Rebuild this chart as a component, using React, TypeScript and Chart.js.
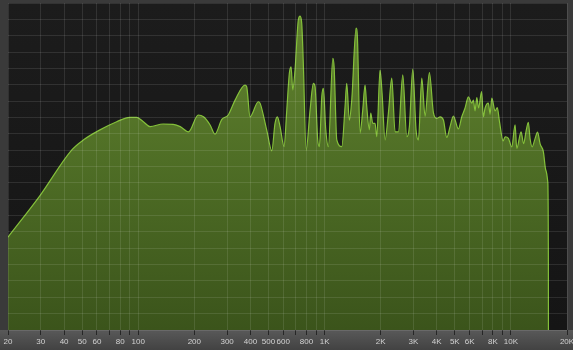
import React, { useEffect, useRef } from "react";
import { Chart, registerables } from "chart.js";

Chart.register(...registerables);

// Spectrum: frequency (Hz) and level (dB)
const frequencies = [
  20, 29.7, 43.9, 50.7, 62.3, 76.6, 90.3, 98.2, 106.5, 115.7, 136, 154, 168, 186,
  210, 224, 243, 258, 281, 304, 331, 374, 382, 398, 441, 451, 489, 521, 542, 558,
  577, 606, 627, 647, 661, 675, 694, 723, 739, 754, 769, 796, 836, 871, 889, 919,
  938, 966, 985, 1015, 1048, 1107, 1125, 1163, 1237, 1288, 1315, 1358, 1399, 1476,
  1500, 1550, 1603, 1649, 1684, 1739, 1769, 1814, 1866, 1906, 1985, 2035, 2111,
  2200, 2294, 2390, 2490, 2628, 2762, 2852, 2974, 3097, 3188, 3324, 3462, 3652,
  3837, 4001, 4168, 4342, 4528, 4716, 4912, 5225, 5450, 5677, 5912, 6166, 6290,
  6420, 6561, 6709, 6961, 7117, 7268, 7571, 7730, 7898, 8227, 8450, 8676, 9080,
  9308, 9694, 10110, 10530, 10750, 11340, 11700, 12070, 12400, 12680, 13000, 13490,
  13900, 14350, 14940, 15390, 15770, 15890, 15900,
];

const levels = [
  -71.6, -58.9, -45.0, -41.9, -38.8, -36.3, -34.95, -34.95, -36.3, -37.8, -37.0, -37.1, -37.8, -39.4,
  -34.25, -34.8, -37.3, -40.1, -35.6, -34.25, -29.7, -25.1, -25.6, -34.8, -30.2, -30.7, -38.8, -45.2, -36.8, -34.8,
  -37.8, -43.9, -32.7, -21.5, -19.5, -26.6, -20.5, -5.2, -4.0, -6.2, -18.4, -45.0, -32.7, -24.6, -25.6, -41.9,
  -43.9, -28.7, -26.1, -38.8, -43.9, -16.9, -19.5, -41.9, -43.9, -31.7, -24.6, -35.8, -29.7, -7.7,
  -10.3, -39.8, -32.7, -25.1, -31.7, -38.8, -33.7, -36.8, -36.8, -40.9, -20.5, -27.6, -41.9,
  -33.7, -23.0, -39.4, -39.4, -22.0, -40.9, -37.8, -20.2, -38.8, -41.9, -23.0, -34.6, -21.3,
  -33.5, -35.3, -34.8, -35.8, -41.1, -37.8, -34.6, -38.5, -34.8, -32.1, -28.7, -30.6, -29.7,
  -33.0, -28.9, -32.1, -27.1, -34.8, -32.1, -30.6, -34.0, -29.1, -33.0, -32.0, -36.1, -42.2,
  -40.9, -41.4, -44.0, -37.3, -44.5, -39.4, -43.0, -39.1, -36.5, -41.6, -44.0, -41.4,
  -39.5, -43.1, -45.5, -51.1, -54.7, -79.2, -100,
];

const tickFrequencies = [
  20, 30, 40, 50, 60, 70, 80, 90, 100, 200, 300, 400, 500, 600, 700, 800, 900,
  1000, 2000, 3000, 4000, 5000, 6000, 7000, 8000, 9000, 10000, 20000,
];
const labelledFrequencies = [
  20, 30, 40, 50, 60, 80, 100, 200, 300, 400, 500, 600, 800, 1000, 2000, 3000,
  4000, 5000, 6000, 8000, 10000, 20000,
];
const tickLabels = [
  "20", "30", "40", "50", "60", "80", "100", "200", "300", "400", "500", "600", "800",
  "1K", "2K", "3K", "4K", "5K", "6K", "8K", "10K", "20K",
];

const backgroundPlugin = {
  id: "analyzerBackground",
  beforeDraw(chart: any) {
    const { ctx, chartArea: a, width, height } = chart;
    ctx.save();
    ctx.fillStyle = "#3a3a3a";
    ctx.fillRect(0, 0, width, height);
    const g = ctx.createLinearGradient(0, a.bottom, 0, height);
    g.addColorStop(0, "#595959");
    g.addColorStop(1, "#424242");
    ctx.fillStyle = g;
    ctx.fillRect(0, a.bottom, width, height - a.bottom);
    const p = ctx.createLinearGradient(0, a.top, 0, a.bottom);
    p.addColorStop(0, "#1c1c1c");
    p.addColorStop(1, "#151515");
    ctx.fillStyle = p;
    ctx.fillRect(a.left, a.top, a.right - a.left, a.bottom - a.top);
    ctx.restore();
  },
};

export default function App() {
  const ref = useRef<HTMLCanvasElement>(null);
  useEffect(() => {
    if (!ref.current) return;
    const chart = new Chart(ref.current, {
      type: "line",
      data: {
        datasets: [
          {
            data: frequencies.map((f, i) => ({ x: f, y: levels[i] })),
            borderColor: "#84c03a",
            borderWidth: 1.2,
            pointRadius: 0,
            cubicInterpolationMode: "monotone",
            fill: "start",
            backgroundColor: (c: any) => {
              const a = c.chart.chartArea;
              if (!a) return "#4e6e24";
              const g = c.chart.ctx.createLinearGradient(0, a.top, 0, a.bottom);
              g.addColorStop(0, "#648530");
              g.addColorStop(0.5, "#4e6d25");
              g.addColorStop(1, "#3b541b");
              return g;
            },
          },
        ],
      },
      options: {
        responsive: false,
        animation: false,
        devicePixelRatio: 1,
        layout: { padding: { left: 8, right: 6, top: 3, bottom: 0 } },
        plugins: { legend: { display: false }, tooltip: { enabled: false } },
        scales: {
          x: {
            type: "logarithmic",
            min: 20,
            max: 20000,
            afterBuildTicks: (s: any) => {
              s.ticks = tickFrequencies.map((v) => ({ value: v }));
            },
            afterFit: (s: any) => {
              s.height = 20;
              s.paddingLeft = 0;
              s.paddingRight = 0;
            },
            border: { display: false },
            grid: {
              z: 1,
              color: "rgba(255,255,255,0.10)",
              tickColor: "#262626",
              tickLength: 5,
              lineWidth: 1,
            },
            ticks: {
              autoSkip: false,
              maxRotation: 0,
              minRotation: 0,
              padding: 2,
              color: "#d2d2d2",
              font: {
                family: "'Liberation Sans Narrow', 'Liberation Sans', sans-serif",
                size: 8,
              },
              callback: (value: any) => {
                const i = labelledFrequencies.indexOf(Number(value));
                return i >= 0 ? tickLabels[i] : "";
              },
            },
          },
          y: {
            min: -100,
            max: 0,
            afterFit: (s: any) => {
              s.width = 0;
            },
            border: { display: false },
            grid: {
              z: 1,
              color: "rgba(255,255,255,0.10)",
              drawTicks: false,
              lineWidth: 1,
            },
            ticks: { display: false, stepSize: 5 },
          },
        },
      },
      plugins: [backgroundPlugin],
    } as any);
    return () => chart.destroy();
  }, []);
  return (
    <div style={{ position: "absolute", left: 0, top: 0 }}>
      <canvas ref={ref} width={573} height={350} style={{ display: "block" }} />
    </div>
  );
}
